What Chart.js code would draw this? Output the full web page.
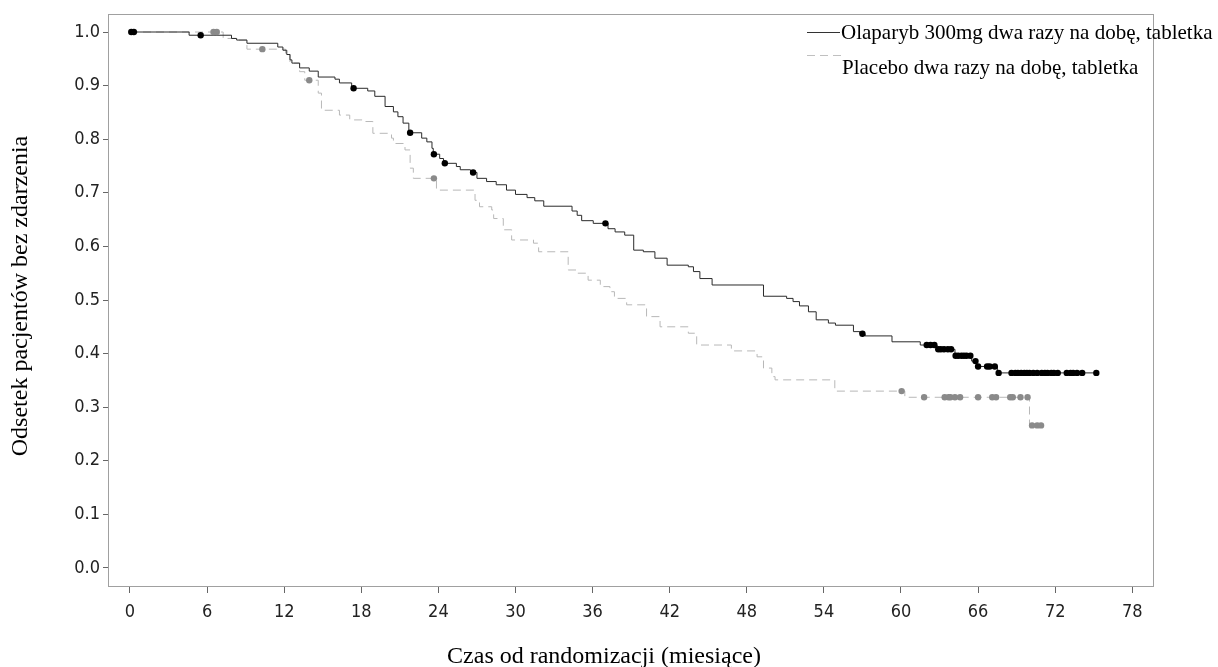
<!DOCTYPE html>
<html>
<head>
<meta charset="utf-8">
<script src="https://cdn.jsdelivr.net/npm/chart.js@4.4.1/dist/chart.umd.min.js"></script>
<style>
  html, body { margin: 0; padding: 0; background: #fff; }
  #wrap { width: 1218px; height: 667px; }
</style>
</head>
<body>
<div id="wrap"><canvas id="km" width="1218" height="667"></canvas></div>
<script>
// Krzywe Kaplana-Meiera
const X_TICKS = [0, 6, 12, 18, 24, 30, 36, 42, 48, 54, 60, 66, 72, 78];
const Y_TICKS = [0, 0.1, 0.2, 0.3, 0.4, 0.5, 0.6, 0.7, 0.8, 0.9, 1.0];

const SERIES_NAMES = ['Olaparyb 300mg dwa razy na dobę, tabletka', 'Placebo dwa razy na dobę, tabletka'];

// Olaparyb: czas zdarzenia (miesiące) i odsetek po zdarzeniu
const OLA_T = [0, 4.6, 7.9, 8.3, 9.1, 11.5, 11.9, 12.2, 12.45, 12.6, 13.2, 13.95, 14.65, 15.95, 16.3, 17.25, 18.5, 19.05, 19.85, 20.5,
  20.85, 21.25, 21.7, 22.7, 23.1, 23.5, 23.6, 24.1, 24.4, 25.4, 25.7, 26.5, 27.0, 27.75, 28.5, 29.3, 30.0, 30.9, 31.5, 32.2,
  34.4, 34.8, 35.15, 36.05, 37.2, 37.75, 38.5, 39.2, 39.95, 40.85, 41.8, 43.45, 43.85, 44.35, 45.3, 49.3, 51.1, 51.6, 52.1, 52.8,
  53.4, 54.35, 54.9, 56.3, 56.8, 57.2, 59.3, 61.5, 62.8, 64.2, 65.5, 65.9, 67.5];
const OLA_S = [1.0, 0.994, 0.988, 0.985, 0.979, 0.972, 0.966, 0.958, 0.948, 0.942, 0.933, 0.927, 0.916, 0.912, 0.905, 0.895, 0.890, 0.880, 0.861, 0.851,
  0.842, 0.830, 0.812, 0.802, 0.795, 0.783, 0.772, 0.764, 0.755, 0.749, 0.743, 0.738, 0.727, 0.721, 0.715, 0.705, 0.697, 0.691, 0.685, 0.675,
  0.666, 0.658, 0.648, 0.643, 0.633, 0.627, 0.621, 0.593, 0.590, 0.578, 0.565, 0.562, 0.553, 0.540, 0.528, 0.507, 0.503, 0.497, 0.489, 0.478,
  0.463, 0.457, 0.453, 0.441, 0.437, 0.433, 0.422, 0.416, 0.408, 0.396, 0.386, 0.376, 0.364];
const OLA_END = 75.2;
const OLA_CENSOR = [0.1, 0.3, 5.5, 17.4, 21.8, 23.65, 24.5, 26.7, 37.0, 57.0, 62.0, 62.3, 62.6, 62.9, 63.1, 63.35, 63.65, 63.9,
  64.25, 64.45, 64.7, 64.9, 65.1, 65.4, 65.8, 66.0, 66.7, 66.9, 67.3, 67.6, 68.6, 68.9, 69.1, 69.35, 69.6, 69.8, 70.0, 70.3,
  70.6, 70.95, 71.2, 71.4, 71.7, 71.9, 72.2, 72.9, 73.2, 73.4, 73.7, 74.1, 75.2];

// Placebo
const PLA_T = [0, 7.25, 8.2, 9.1, 12.1, 12.45, 13.2, 13.6, 14.65, 14.9, 16.3, 17.1, 18.3, 18.9, 20.35, 20.5, 21.4, 21.8, 22.05, 23.85,
  26.85, 27.2, 28.15, 28.3, 29.05, 29.7, 31.4, 31.8, 34.1, 34.75, 35.65, 36.6, 37.35, 37.7, 38.65, 40.2, 41.25, 43.45, 44.1, 46.8,
  48.8, 49.3, 49.95, 50.2, 54.85, 60.3, 70.0];
const PLA_S = [1.0, 0.988, 0.985, 0.968, 0.960, 0.942, 0.926, 0.910, 0.886, 0.854, 0.845, 0.836, 0.833, 0.811, 0.802, 0.792, 0.780, 0.746, 0.727, 0.705,
  0.686, 0.674, 0.668, 0.652, 0.631, 0.612, 0.606, 0.590, 0.556, 0.550, 0.537, 0.525, 0.5155, 0.503, 0.491, 0.469, 0.450, 0.438, 0.416, 0.405,
  0.394, 0.373, 0.357, 0.351, 0.330, 0.3185, 0.266];
const PLA_END = 70.9;
const PLA_CENSOR = [6.5, 6.75, 10.3, 13.95, 23.65, 60.05, 61.8, 63.4, 63.7, 63.85, 64.2, 64.6, 66.0, 67.1, 67.4, 68.5, 68.7,
  69.3, 69.85, 70.2, 70.6, 70.9];

// =============================================================================
// Helpers
// =============================================================================
function stepPoints(ts, ss, end) {
  const pts = ts.map((t, i) => ({ x: t, y: ss[i] }));
  pts.push({ x: end, y: ss[ss.length - 1] });
  return pts;
}

function survivalAt(ts, ss, t) {
  let s = ss[0];
  for (let i = 0; i < ts.length; i++) if (ts[i] <= t) s = ss[i];
  return s;
}

function censorPoints(ts, ss, times) {
  return times.map(t => ({ x: t, y: survivalAt(ts, ss, t) }));
}

const TICK_FONT = { family: '"DejaVu Sans Condensed", "DejaVu Sans", sans-serif', size: 18 };
const SERIF = '"Liberation Serif", "Times New Roman", serif';

// ramka, legenda i tytuły osi
const decorPlugin = {
  id: 'decor',
  afterDraw(chart) {
    const { ctx, chartArea: a } = chart;
    ctx.save();
    ctx.strokeStyle = '#a0a0a0';
    ctx.lineWidth = 1;
    ctx.strokeRect(a.left + 0.5, a.top + 0.5, a.right - a.left - 1, a.bottom - a.top);

    // legenda
    ctx.fillStyle = '#000';
    ctx.font = '21px ' + SERIF;
    ctx.textBaseline = 'alphabetic';
    ctx.textAlign = 'left';
    ctx.strokeStyle = '#333';
    ctx.beginPath(); ctx.moveTo(807, 32.5); ctx.lineTo(840, 32.5); ctx.stroke();
    ctx.fillText(SERIES_NAMES[0], 841, 39);
    ctx.strokeStyle = '#c0c0c0';
    ctx.setLineDash([8, 5]);
    ctx.beginPath(); ctx.moveTo(807, 55.5); ctx.lineTo(845, 55.5); ctx.stroke();
    ctx.setLineDash([]);
    ctx.fillText(SERIES_NAMES[1], 842, 74);

    // tytuły osi
    ctx.font = '24px ' + SERIF;
    ctx.textAlign = 'center';
    ctx.textBaseline = 'middle';
    ctx.fillText('Czas od randomizacji (miesiące)', 604, 657);
    ctx.translate(21, 296);
    ctx.rotate(-Math.PI / 2);
    ctx.fillText('Odsetek pacjentów bez zdarzenia', 0, 0);
    ctx.restore();
  }
};

new Chart(document.getElementById('km'), {
  type: 'scatter',
  data: {
    datasets: [
      {
        label: 'ola-censor',
        data: censorPoints(OLA_T, OLA_S, OLA_CENSOR),
        pointRadius: 3.2, pointBackgroundColor: '#000', pointBorderColor: '#000', pointBorderWidth: 0,
        showLine: false
      },
      {
        label: 'pla-censor',
        data: censorPoints(PLA_T, PLA_S, PLA_CENSOR),
        pointRadius: 3.2, pointBackgroundColor: '#8a8a8a', pointBorderColor: '#8a8a8a', pointBorderWidth: 0,
        showLine: false
      },
      {
        label: SERIES_NAMES[0],
        data: stepPoints(OLA_T, OLA_S, OLA_END),
        showLine: true, stepped: 'before', borderColor: '#2a2a2a', borderWidth: 1, pointRadius: 0
      },
      {
        label: SERIES_NAMES[1],
        data: stepPoints(PLA_T, PLA_S, PLA_END),
        showLine: true, stepped: 'before', borderColor: '#b8b8b8', borderWidth: 1, borderDash: [8, 5], pointRadius: 0
      }
    ]
  },
  options: {
    responsive: false,
    animation: false,
    devicePixelRatio: 1,
    layout: { padding: { top: 14, right: 64, left: 0, bottom: 0 } },
    plugins: { legend: { display: false }, tooltip: { enabled: false } },
    scales: {
      x: {
        type: 'linear',
        min: -1.712, max: 79.69,
        afterBuildTicks: s => { s.ticks = X_TICKS.map(v => ({ value: v })); },
        afterFit: s => { s.height = 81; },
        ticks: { font: TICK_FONT, color: '#222', padding: 9, maxRotation: 0 },
        grid: { display: true, drawOnChartArea: false, drawTicks: true, tickLength: 7, color: '#666' },
        border: { display: false }
      },
      y: {
        type: 'linear',
        min: -0.0336, max: 1.0336,
        afterBuildTicks: s => { s.ticks = Y_TICKS.map(v => ({ value: v })); },
        afterFit: s => { s.width = 108; },
        ticks: { font: TICK_FONT, color: '#222', padding: 3, callback: v => v.toFixed(1) },
        grid: { display: true, drawOnChartArea: false, drawTicks: true, tickLength: 5, color: '#666' },
        border: { display: false }
      }
    }
  },
  plugins: [decorPlugin]
});
</script>
</body>
</html>
